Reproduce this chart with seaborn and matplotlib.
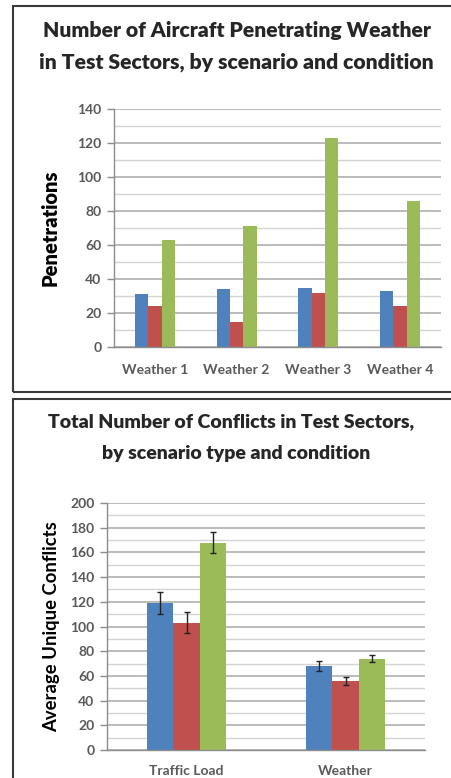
import matplotlib
matplotlib.use("Agg")
import matplotlib.pyplot as plt
from matplotlib.patches import Rectangle
from matplotlib.ticker import MultipleLocator
import seaborn as sns
import pandas as pd

# ---------------- data ----------------
conditions = ["Condition 1", "Condition 2", "Condition 3"]
colors = ["#4F81BD", "#C0504D", "#9BBB59"]

weather_cats = ["Weather 1", "Weather 2", "Weather 3", "Weather 4"]
pen_c1 = [31, 34, 35, 33]
pen_c2 = [24, 15, 32, 24]
pen_c3 = [63, 71, 123, 86]

scen_cats = ["Traffic Load", "Weather"]
conf_c1 = [119, 68]
conf_c2 = [103, 56]
conf_c3 = [168, 74]
err_c1 = [9, 4]
err_c2 = [8.5, 3]
err_c3 = [8.5, 3]

sns.set_theme(style="white")
plt.rcParams["font.family"] = ["Lato", "DejaVu Sans"]

W, H = 451, 778
fig = plt.figure(figsize=(W / 100, H / 100), dpi=100)

def fx(px):
    return px / W

def fy(py):
    return 1 - py / H

tick_col = "#595959"

def style_axes(ax, ymax, major, minor):
    ax.set_ylim(0, ymax)
    ax.yaxis.set_major_locator(MultipleLocator(major))
    ax.yaxis.set_minor_locator(MultipleLocator(minor))
    ax.grid(which="major", axis="y", color="#A8A8A8", lw=1.1)
    ax.grid(which="minor", axis="y", color="#D4D4D4", lw=1.0)
    ax.set_axisbelow(True)
    for s in ["top", "right"]:
        ax.spines[s].set_visible(False)
    for s in ["left", "bottom"]:
        ax.spines[s].set_color("#8C8C8C")
        ax.spines[s].set_linewidth(1.0)
    ax.tick_params(axis="y", which="major", left=True, length=5, width=1,
                   color="#8C8C8C", labelcolor=tick_col, labelsize=10, pad=4)
    ax.tick_params(axis="x", bottom=False, labelcolor=tick_col, labelsize=10)
    for lab in ax.get_xticklabels() + ax.get_yticklabels():
        lab.set_fontweight("bold")
    ax.set_xlabel("")

# ---------------- top chart ----------------
df1 = pd.DataFrame({
    "cat": weather_cats * 3,
    "cond": sum([[c] * len(weather_cats) for c in conditions], []),
    "val": pen_c1 + pen_c2 + pen_c3,
})
ax1 = fig.add_axes([fx(114), fy(347), fx(441) - fx(114), fy(109) - fy(347)])
sns.barplot(data=df1, x="cat", y="val", hue="cond", hue_order=conditions,
            palette=colors, width=0.49, gap=0, saturation=1, legend=False,
            errorbar=None, linewidth=0, ax=ax1)
ax1.set_xlim(-0.5, 3.5)
style_axes(ax1, 140, 20, 10)
ax1.tick_params(axis="x", pad=6)
ax1.set_ylabel("Penetrations", fontsize=14.5, fontweight="heavy", color="black",
               labelpad=13)
fig.text(fx(237), fy(30), "Number of Aircraft Penetrating Weather",
         ha="center", va="center", fontsize=15.2, fontweight="heavy")
fig.text(fx(236), fy(62), "in Test Sectors, by scenario and condition",
         ha="center", va="center", fontsize=15.2, fontweight="heavy")

# ---------------- bottom chart ----------------
df2 = pd.DataFrame({
    "cat": scen_cats * 3,
    "cond": sum([[c] * len(scen_cats) for c in conditions], []),
    "val": conf_c1 + conf_c2 + conf_c3,
})
ax2 = fig.add_axes([fx(107), fy(750), fx(425) - fx(107), fy(503) - fy(750)])
sns.barplot(data=df2, x="cat", y="val", hue="cond", hue_order=conditions,
            palette=colors, width=0.50, gap=0, saturation=1, legend=False,
            errorbar=None, linewidth=0, ax=ax2)
ax2.set_xlim(-0.5, 1.5)
style_axes(ax2, 200, 20, 10)
ax2.tick_params(axis="x", pad=5)
ax2.set_ylabel("Average Unique Conflicts", fontsize=13.3, fontweight="bold",
               color="black", labelpad=7)
errs = [err_c1, err_c2, err_c3]
for cont, e in zip(ax2.containers, errs):
    xs = [b.get_x() + b.get_width() / 2 for b in cont]
    hs = [b.get_height() for b in cont]
    ax2.errorbar(xs, hs, yerr=e, fmt="none", ecolor="#222222",
                 elinewidth=1.0, capsize=2.5, capthick=1.0, zorder=5)
fig.text(fx(231), fy(422), "Total Number of Conflicts in Test Sectors,",
         ha="center", va="center", fontsize=14, fontweight="heavy")
fig.text(fx(236), fy(453), "by scenario type and condition",
         ha="center", va="center", fontsize=14, fontweight="heavy")

# ---------------- panel frames ----------------
fig.add_artist(Rectangle((fx(13), fy(392)), fx(460) - fx(13), fy(6) - fy(392),
                         transform=fig.transFigure, fill=False,
                         edgecolor="#3A3A3A", lw=1.5))
fig.add_artist(Rectangle((fx(13), fy(790)), fx(460) - fx(13), fy(399) - fy(790),
                         transform=fig.transFigure, fill=False,
                         edgecolor="#3A3A3A", lw=1.5))

fig.savefig("out.png", dpi=100)
